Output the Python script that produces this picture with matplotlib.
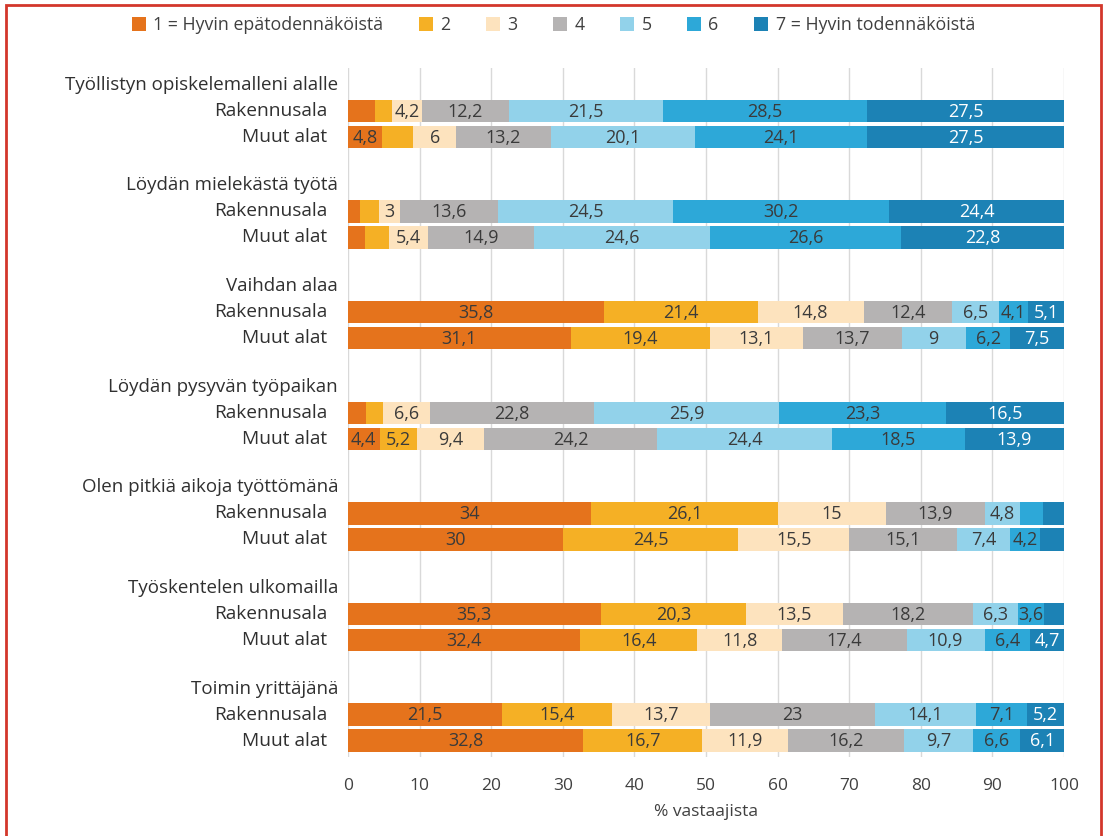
import matplotlib
matplotlib.use('Agg')
import matplotlib.pyplot as plt
import matplotlib.transforms as mtransforms
from matplotlib.patches import Patch, Rectangle

plt.rcParams['font.family'] = ['Open Sans', 'DejaVu Sans']

# Survey statements (group headings)
groups = [
    'Työllistyn opiskelemalleni alalle',
    'Löydän mielekästä työtä',
    'Vaihdan alaa',
    'Löydän pysyvän työpaikan',
    'Olen pitkiä aikoja työttömänä',
    'Työskentelen ulkomailla',
    'Toimin yrittäjänä',
]
bar_names = ['Rakennusala', 'Muut alat']
levels = ['1 = Hyvin epätodennäköistä', '2', '3', '4', '5', '6', '7 = Hyvin todennäköistä']
colors = ['#E5731C', '#F5B025', '#FDE3BE', '#B5B3B3', '#92D2EA', '#2DA8D8', '#1C82B5']

# % of respondents per level 1..7
rakennusala = [
    [3.7, 2.4, 4.2, 12.2, 21.5, 28.5, 27.5],
    [1.7, 2.6, 3, 13.6, 24.5, 30.2, 24.4],
    [35.8, 21.4, 14.8, 12.4, 6.5, 4.1, 5.1],
    [2.5, 2.4, 6.6, 22.8, 25.9, 23.3, 16.5],
    [34, 26.1, 15, 13.9, 4.8, 3.3, 2.9],
    [35.3, 20.3, 13.5, 18.2, 6.3, 3.6, 2.8],
    [21.5, 15.4, 13.7, 23, 14.1, 7.1, 5.2],
]
muut_alat = [
    [4.8, 4.3, 6, 13.2, 20.1, 24.1, 27.5],
    [2.3, 3.4, 5.4, 14.9, 24.6, 26.6, 22.8],
    [31.1, 19.4, 13.1, 13.7, 9, 6.2, 7.5],
    [4.4, 5.2, 9.4, 24.2, 24.4, 18.5, 13.9],
    [30, 24.5, 15.5, 15.1, 7.4, 4.2, 3.3],
    [32.4, 16.4, 11.8, 17.4, 10.9, 6.4, 4.7],
    [32.8, 16.7, 11.9, 16.2, 9.7, 6.6, 6.1],
]
# segments without a value label in the original
hidden_rak = [{0, 1}, {0, 1}, set(), {0, 1}, {5, 6}, {6}, set()]
hidden_muut = [{1}, {0, 1}, set(), set(), {6}, set(), set()]


def fmt(v):
    s = ('%g' % v)
    return s.replace('.', ',')


fig = plt.figure(figsize=(11.07, 8.36), dpi=100)
ax = fig.add_axes([0.3144, 0.0945, 0.6468, 0.8242])

group_step = 3.87
ylab_tr = mtransforms.blended_transform_factory(ax.transAxes, ax.transData)

for g, name in enumerate(groups):
    y0 = g * group_step
    ax.text(-10 / 716, y0, name, transform=ylab_tr, ha='right', va='center',
            fontsize=13.5, color='#303030')
    for b, (vals, hidden) in enumerate([(rakennusala[g], hidden_rak[g]),
                                        (muut_alat[g], hidden_muut[g])]):
        y = y0 + 1 + b
        ax.text(-21 / 716, y, bar_names[b], transform=ylab_tr, ha='right',
                va='center', fontsize=13.8, color='#303030')
        left = 0
        for i, v in enumerate(vals):
            ax.barh(y, v, left=left, height=0.86, color=colors[i], zorder=2)
            if i not in hidden:
                tc = 'white' if i == 6 else '#3A3A3A'
                ax.text(left + v / 2, y + 0.03, fmt(v), ha='center', va='center',
                        fontsize=13, color=tc, zorder=3)
            left += v

ax.set_xlim(0, 100)
ax.set_ylim(25.85, -0.65)
ax.set_xticks(range(0, 101, 10))
ax.set_yticks([])
ax.grid(axis='x', color='#D9D9D9', linewidth=1, zorder=0)
ax.tick_params(axis='x', length=0, pad=15, labelsize=12.5, labelcolor='#404040')
for sp in ax.spines.values():
    sp.set_visible(False)
ax.set_xlabel('% vastaajista', fontsize=12.5, color='#404040', labelpad=7)

handles = [Patch(facecolor=c, edgecolor='none', label=l) for c, l in zip(colors, levels)]
fig.legend(handles=handles, loc='center', bbox_to_anchor=(0.5, 1 - 25 / 836), ncol=7,
           frameon=False, fontsize=12.8, handlelength=0.8, handleheight=0.8,
           handletextpad=0.4, columnspacing=2.0, labelcolor='#404040')

# red frame around the figure
fig.patches.append(Rectangle((6 / 1107, -0.02), 1095 / 1107, 1.02 - 5 / 836,
                             transform=fig.transFigure, fill=False,
                             edgecolor='#D3372B', linewidth=2))

fig.savefig('out.png', dpi=100)
plt.close()
